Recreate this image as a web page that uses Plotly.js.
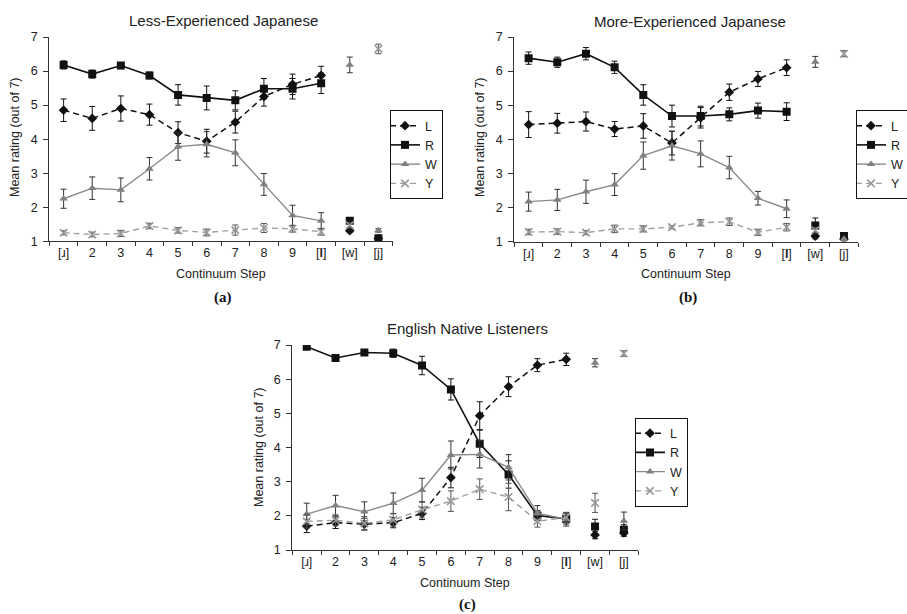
<!DOCTYPE html>
<html>
<head>
<meta charset="utf-8">
<script src="https://cdn.plot.ly/plotly-3.0.1.min.js"></script>
<style>
  html, body { margin: 0; padding: 0; background: #fff; }
  #chart { width: 907px; height: 614px; }
</style>
</head>
<body>
<div id="chart"></div>
<script>
// Continuum steps: 10 synthetic steps ([ɹ] ... [l]) plus the two natural endpoints
const steps = ['[ɹ]', '2', '3', '4', '5', '6', '7', '8', '9', '[<b>l</b>]', '[w]', '[j]'];
const seriesNames = ['L', 'R', 'W', 'Y'];

// Less-experienced Japanese listeners: mean ratings and error-bar half-widths
const lessL    = [4.85, 4.61, 4.90, 4.72, 4.19, 3.94, 4.50, 5.25, 5.61, 5.87, 1.31, 1.08];
const lessLErr = [0.33, 0.35, 0.37, 0.31, 0.32, 0.35, 0.32, 0.28, 0.30, 0.27, 0.05, 0.03];
const lessR    = [6.18, 5.91, 6.16, 5.87, 5.30, 5.21, 5.14, 5.48, 5.48, 5.64, 1.60, 1.09];
const lessRErr = [0.12, 0.12, 0.09, 0.10, 0.30, 0.35, 0.28, 0.30, 0.30, 0.30, 0.05, 0.04];
const lessW    = [2.25, 2.56, 2.51, 3.13, 3.78, 3.85, 3.60, 2.67, 1.76, 1.60, 6.18, 1.32];
const lessWErr = [0.28, 0.33, 0.35, 0.33, 0.40, 0.37, 0.38, 0.32, 0.30, 0.24, 0.23, 0.05];
const lessY    = [1.25, 1.20, 1.23, 1.45, 1.32, 1.26, 1.33, 1.39, 1.37, 1.28, 1.47, 6.65];
const lessYErr = [0.06, 0.07, 0.09, 0.08, 0.08, 0.10, 0.15, 0.13, 0.10, 0.10, 0.08, 0.14];

// More-experienced Japanese listeners
const moreL    = [4.43, 4.47, 4.52, 4.30, 4.39, 3.89, 4.63, 5.38, 5.77, 6.10, 1.16, 1.07];
const moreLErr = [0.38, 0.29, 0.28, 0.22, 0.36, 0.35, 0.30, 0.24, 0.22, 0.23, 0.08, 0.03];
const moreR    = [6.38, 6.26, 6.51, 6.11, 5.30, 4.68, 4.68, 4.73, 4.84, 4.81, 1.47, 1.16];
const moreRErr = [0.18, 0.15, 0.18, 0.18, 0.30, 0.32, 0.29, 0.19, 0.22, 0.26, 0.22, 0.05];
const moreW    = [2.17, 2.22, 2.46, 2.67, 3.52, 3.81, 3.57, 3.17, 2.27, 1.96, 6.27, 1.07];
const moreWErr = [0.28, 0.31, 0.34, 0.32, 0.40, 0.42, 0.38, 0.33, 0.20, 0.26, 0.16, 0.03];
const moreY    = [1.28, 1.29, 1.26, 1.37, 1.37, 1.42, 1.55, 1.58, 1.27, 1.42, 1.33, 6.51];
const moreYErr = [0.08, 0.08, 0.06, 0.11, 0.09, 0.05, 0.09, 0.11, 0.09, 0.11, 0.08, 0.09];

// English native listeners
const nativeL    = [1.70, 1.80, 1.76, 1.80, 2.07, 3.12, 4.93, 5.78, 6.41, 6.58, 1.44, 1.50];
const nativeLErr = [0.19, 0.17, 0.17, 0.15, 0.18, 0.30, 0.41, 0.29, 0.19, 0.18, 0.11, 0.10];
const nativeR    = [6.95, 6.62, 6.78, 6.76, 6.40, 5.70, 4.11, 3.21, 2.01, 1.91, 1.69, 1.59];
const nativeRErr = [0.04, 0.08, 0.08, 0.12, 0.27, 0.31, 0.40, 0.40, 0.15, 0.15, 0.21, 0.15];
const nativeW    = [2.05, 2.30, 2.12, 2.37, 2.75, 3.78, 3.80, 3.42, 2.08, 1.90, 6.48, 1.85];
const nativeWErr = [0.32, 0.30, 0.29, 0.30, 0.35, 0.41, 0.40, 0.37, 0.22, 0.20, 0.12, 0.26];
const nativeY    = [1.84, 1.87, 1.78, 1.88, 2.18, 2.43, 2.78, 2.55, 1.84, 1.95, 2.38, 6.75];
const nativeYErr = [0.20, 0.16, 0.20, 0.18, 0.24, 0.30, 0.30, 0.40, 0.17, 0.15, 0.28, 0.08];

const panelTitles = ['Less-Experienced Japanese', 'More-Experienced Japanese', 'English Native Listeners'];
const panelLetters = ['(a)', '(b)', '(c)'];
const yTitle = 'Mean rating (out of 7)';
const xTitle = 'Continuum Step';

const panels = [
  { vals: [lessL, lessR, lessW, lessY],         errs: [lessLErr, lessRErr, lessWErr, lessYErr] },
  { vals: [moreL, moreR, moreW, moreY],         errs: [moreLErr, moreRErr, moreWErr, moreYErr] },
  { vals: [nativeL, nativeR, nativeW, nativeY], errs: [nativeLErr, nativeRErr, nativeWErr, nativeYErr] }
];

// Per-series drawing style
const styles = [
  { line: { color: '#111', width: 1.5, dash: '6px,4px' }, marker: { symbol: 'diamond', size: 7.5, color: '#111' }, err: '#111' },
  { line: { color: '#111', width: 1.6 }, marker: { symbol: 'square', size: 8, color: '#111' }, err: '#111' },
  { line: { color: '#8a8a8a', width: 1.4 }, marker: { symbol: 'triangle-up', size: 7.5, color: '#808080' }, err: '#333' },
  { line: { color: '#a0a0a0', width: 1.4, dash: '6px,4px' }, marker: { symbol: 'x-thin-open', size: 7.5, color: '#999', line: { color: '#999', width: 1.6 } }, err: '#555' }
];

const W = 907, H = 614;
const px = v => v / W;
const py = v => 1 - v / H;

// Plot-area boxes in pixels: [left, right, top (y=7), bottom (y=1)]
const boxes = [
  [49.3, 392.7, 37, 241.3],
  [514.3, 858.3, 37, 241.5],
  [292.3, 638.3, 345, 550]
];
const legendPos = [[390, 110], [856, 110], [635, 417.5]];
const titlePos = [[223, 20.5], [689.5, 21], [467, 328]];
const yTitlePos = [[15, 137], [480, 137], [259, 447]];
const xTitlePos = [[221, 274], [686, 274], [465, 583]];
const letterPos = [[223, 297], [688, 297], [467, 604]];

const traces = [];
const layout = {
  width: W, height: H,
  margin: { l: 0, r: 0, t: 0, b: 0, autoexpand: false },
  paper_bgcolor: '#fff', plot_bgcolor: '#fff',
  font: { family: 'Liberation Sans, Arial, sans-serif', size: 12.5, color: '#222' },
  showlegend: true,
  annotations: []
};

panels.forEach((p, i) => {
  const sfx = i === 0 ? '' : String(i + 1);
  const xa = 'x' + sfx, ya = 'y' + sfx;
  const legendId = 'legend' + sfx;
  const [l, r, t, b] = boxes[i];

  layout['xaxis' + sfx] = {
    domain: [px(l), px(r)], anchor: ya, type: 'category',
    categoryorder: 'array', categoryarray: steps, range: [-0.5, 11.5],
    tickson: 'boundaries', ticks: 'outside', ticklen: 4, tickcolor: '#333',
    showline: true, linecolor: '#333', linewidth: 1,
    showgrid: false, zeroline: false, fixedrange: true,
    tickfont: { size: 12.5, color: '#222' }
  };
  layout['yaxis' + sfx] = {
    domain: [py(b), py(t)], anchor: xa, range: [1, 7], tick0: 1, dtick: 1,
    ticks: 'outside', ticklen: 5, tickcolor: '#333', ticklabelstandoff: 3,
    showline: true, linecolor: '#333', linewidth: 1,
    showgrid: false, zeroline: false, fixedrange: true,
    tickfont: { size: 12.5, color: '#222' }
  };
  layout[legendId] = {
    x: px(legendPos[i][0]), y: py(legendPos[i][1]), xanchor: 'left', yanchor: 'top',
    xref: 'paper', yref: 'paper',
    bordercolor: '#111', borderwidth: 1, bgcolor: '#fff',
    font: { size: 12.5, color: '#222' }, itemwidth: 30, tracegroupgap: 0,
    indentation: -6, traceorder: 'normal'
  };

  seriesNames.forEach((name, k) => {
    const st = styles[k];
    const v = p.vals[k], e = p.errs[k];
    // Connected continuum (first ten steps)
    traces.push({
      type: 'scatter', mode: 'lines+markers', name: name,
      x: steps.slice(0, 10), y: v.slice(0, 10),
      xaxis: xa, yaxis: ya, legend: legendId,
      line: st.line, marker: st.marker,
      error_y: { type: 'data', array: e.slice(0, 10), visible: true, color: st.err, thickness: 1, width: 3 },
      hoverinfo: 'skip'
    });
    // Natural endpoints [w] and [j], unconnected
    traces.push({
      type: 'scatter', mode: 'markers', name: name, showlegend: false,
      x: steps.slice(10), y: v.slice(10),
      xaxis: xa, yaxis: ya, legend: legendId,
      marker: st.marker,
      error_y: { type: 'data', array: e.slice(10), visible: true, color: st.err, thickness: 1, width: 3 },
      hoverinfo: 'skip'
    });
  });

  layout.annotations.push(
    { text: panelTitles[i], xref: 'paper', yref: 'paper', x: px(titlePos[i][0]), y: py(titlePos[i][1]),
      xanchor: 'center', yanchor: 'middle', showarrow: false, font: { size: 15, color: '#222' } },
    { text: yTitle, xref: 'paper', yref: 'paper', x: px(yTitlePos[i][0]), y: py(yTitlePos[i][1]),
      xanchor: 'center', yanchor: 'middle', textangle: -90, showarrow: false, font: { size: 12.5, color: '#222' } },
    { text: xTitle, xref: 'paper', yref: 'paper', x: px(xTitlePos[i][0]), y: py(xTitlePos[i][1]),
      xanchor: 'center', yanchor: 'middle', showarrow: false, font: { size: 12.5, color: '#222' } },
    { text: '<b>' + panelLetters[i] + '</b>', xref: 'paper', yref: 'paper', x: px(letterPos[i][0]), y: py(letterPos[i][1]),
      xanchor: 'center', yanchor: 'middle', showarrow: false,
      font: { family: 'Liberation Serif, Times New Roman, serif', size: 15, color: '#111' } }
  );
});

Plotly.newPlot('chart', traces, layout, { staticPlot: true, displayModeBar: false });
</script>
</body>
</html>
